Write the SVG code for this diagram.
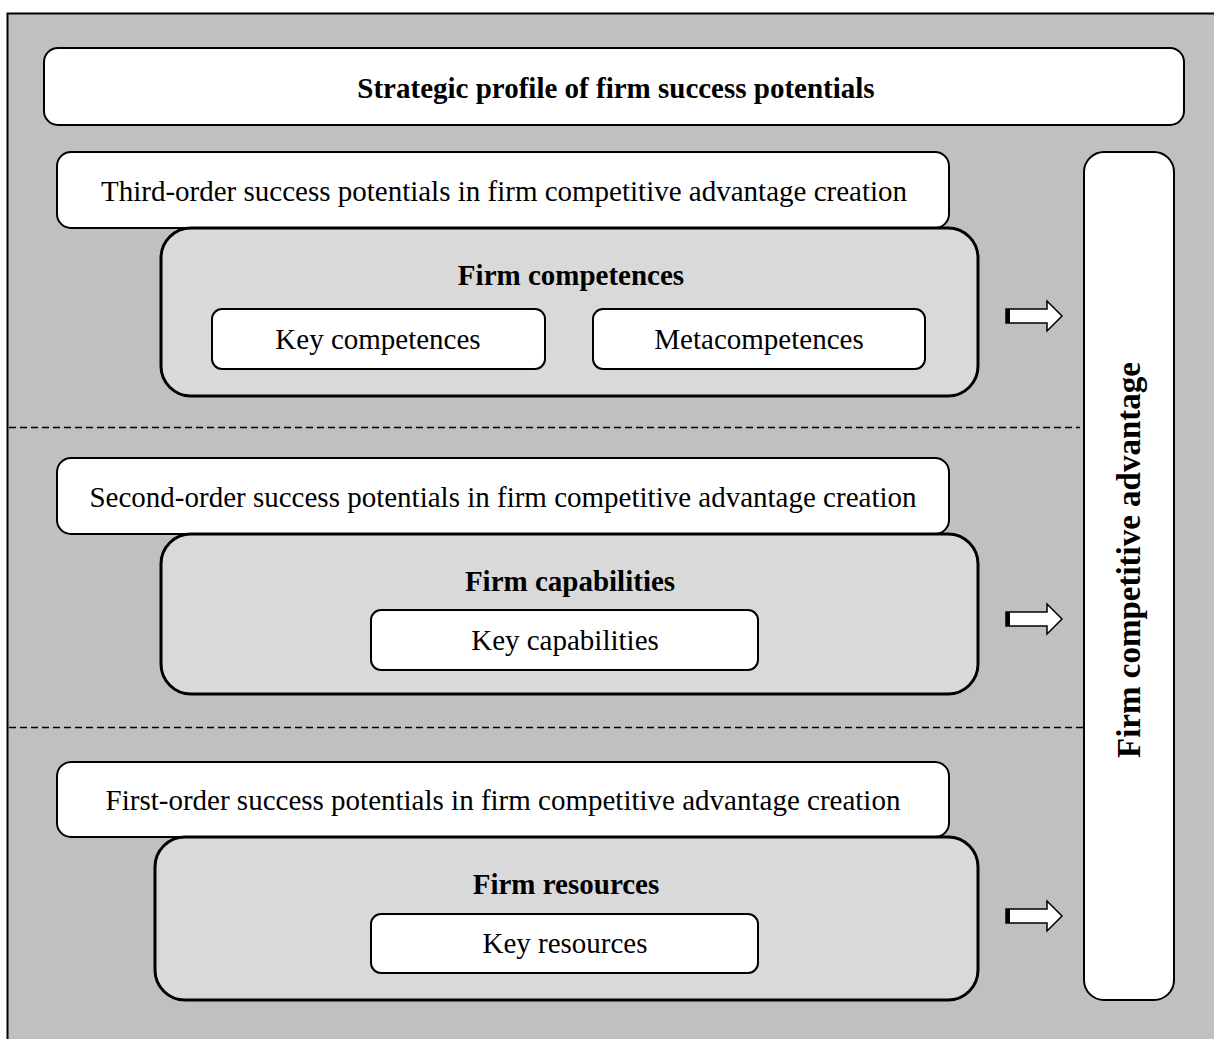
<svg xmlns="http://www.w3.org/2000/svg" width="1214" height="1039" viewBox="0 0 1214 1039">
<defs>
<style>
text{font-family:"Liberation Serif","Times New Roman",serif;font-size:29px;fill:#000;text-anchor:middle}
.b{font-weight:bold}
.wb{fill:#fff;stroke:#000;stroke-width:2}
.gb{fill:#d9d9d9;stroke:#000;stroke-width:3}
.dash{stroke:#000;stroke-width:1.5;stroke-dasharray:7 4;fill:none}
.arr{fill:#fff;stroke:#000;stroke-width:1.5}
</style>
<path id="arrow" d="M0,-7 H41 V-15 L56,0 L41,15 V7 H0 Z"/>
</defs>
<rect x="7.5" y="13.5" width="1230" height="1050" fill="#c0c0c0" stroke="#000" stroke-width="2"/>
<g id="connectors">
<line class="dash" x1="9" y1="427.5" x2="1080" y2="427.5"/>
<line class="dash" x1="9" y1="727.5" x2="1088" y2="727.5"/>
<g>
<use href="#arrow" class="arr" x="1006" y="316"/>
<rect x="1006" y="309" width="4" height="14" fill="#000"/>
</g>
<g>
<use href="#arrow" class="arr" x="1006" y="619"/>
<rect x="1006" y="612" width="4" height="14" fill="#000"/>
</g>
<g>
<use href="#arrow" class="arr" x="1006" y="916"/>
<rect x="1006" y="909" width="4" height="14" fill="#000"/>
</g>
</g>
<g id="top">
<rect class="wb" x="44" y="48" width="1140" height="77" rx="14"/>
<text class="b" x="616" y="98">Strategic profile of firm success potentials</text>
</g>
<g id="adv">
<rect class="wb" x="1084" y="152" width="90" height="848" rx="20"/>
<text class="b" transform="translate(1140,560) rotate(-90)" style="font-size:33px">Firm competitive advantage</text>
</g>
<g id="third">
<rect class="wb" x="57" y="152" width="892" height="76" rx="14"/>
<text x="504" y="201">Third-order success potentials in firm competitive advantage creation</text>
</g>
<g id="competences">
<rect class="gb" x="161" y="228" width="817" height="168" rx="30"/>
<text class="b" x="571" y="285">Firm competences</text>
</g>
<g id="keycomp">
<rect class="wb" x="212" y="309" width="333" height="60" rx="10"/>
<text x="378" y="349">Key competences</text>
</g>
<g id="meta">
<rect class="wb" x="593" y="309" width="332" height="60" rx="10"/>
<text x="759" y="349">Metacompetences</text>
</g>
<g id="second">
<rect class="wb" x="57" y="458" width="892" height="76" rx="14"/>
<text x="503" y="507">Second-order success potentials in firm competitive advantage creation</text>
</g>
<g id="capabilities">
<rect class="gb" x="161" y="534" width="817" height="160" rx="30"/>
<text class="b" x="570" y="591">Firm capabilities</text>
</g>
<g id="keycap">
<rect class="wb" x="371" y="610" width="387" height="60" rx="10"/>
<text x="565" y="650">Key capabilities</text>
</g>
<g id="first">
<rect class="wb" x="57" y="762" width="892" height="75" rx="14"/>
<text x="503" y="810">First-order success potentials in firm competitive advantage creation</text>
</g>
<g id="resources">
<rect class="gb" x="155" y="837" width="823" height="163" rx="30"/>
<text class="b" x="566" y="894">Firm resources</text>
</g>
<g id="keyres">
<rect class="wb" x="371" y="914" width="387" height="59" rx="10"/>
<text x="565" y="953">Key resources</text>
</g>
</svg>
